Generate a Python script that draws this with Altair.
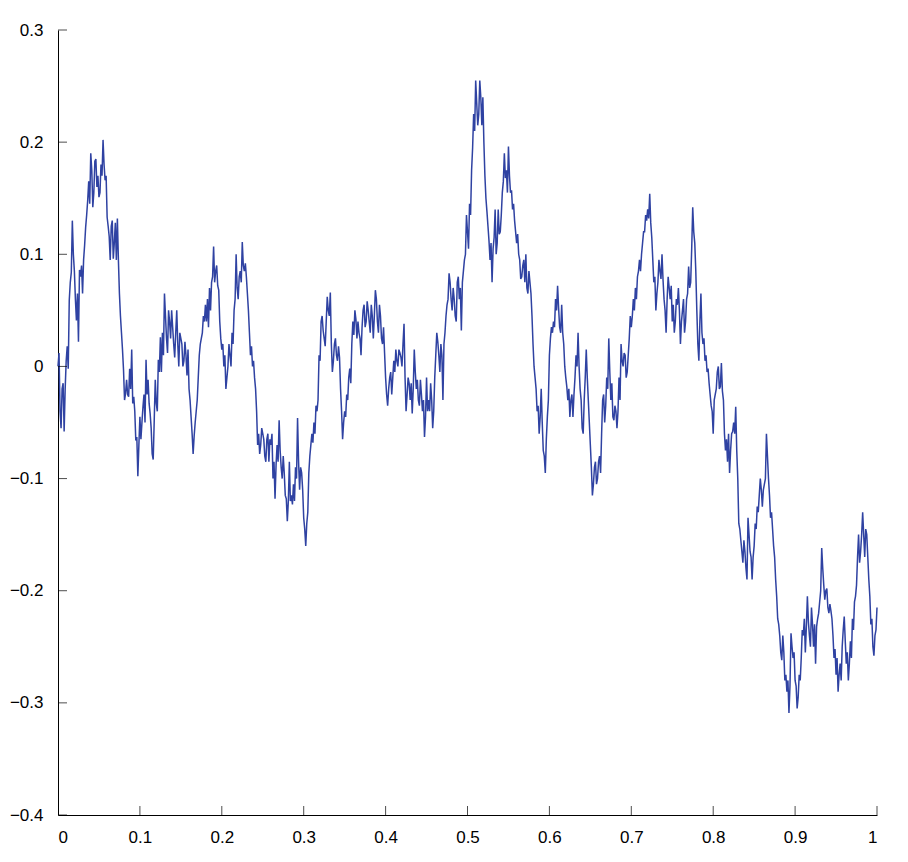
import altair as alt
import pandas as pd

# Path values at x = 0, 0.0025, 0.005, ... 1
seg1 = [0.000, -0.040, -0.020, -0.058, 0.005, -0.002, 0.075, 0.130, 0.085, 0.041,
        0.022, 0.080, 0.065, 0.108, 0.135, 0.165, 0.190, 0.142, 0.183, 0.160,
        0.151, 0.180, 0.202, 0.166, 0.133, 0.116, 0.125, 0.096, 0.128, 0.132,
        0.065, 0.030, -0.003, -0.024, -0.025, -0.002, 0.015, -0.027, -0.066, -0.098,
        -0.045, -0.050, -0.025, 0.006, -0.012, -0.042, -0.078, -0.048, -0.033, 0.006]
seg2 = [0.026, 0.030, 0.065, 0.025, 0.050, 0.025, 0.035, 0.008, 0.050, 0.000,
        0.025, 0.000, 0.022, -0.008, -0.020, -0.045, -0.078, -0.050, -0.030, 0.010,
        0.025, 0.045, 0.055, 0.060, 0.070, 0.075, 0.107, 0.085, 0.072, 0.040,
        0.015, 0.000, -0.020, 0.000, 0.010, 0.030, 0.050, 0.100, 0.060, 0.085,
        0.111, 0.085, 0.080, 0.050, 0.010, 0.000, -0.010, -0.040, -0.060, -0.070]
seg3 = [-0.060, -0.080, -0.065, -0.085, -0.070, -0.100, -0.118, -0.070, -0.048, -0.090,
        -0.080, -0.115, -0.138, -0.085, -0.115, -0.105, -0.090, -0.046, -0.110, -0.095,
        -0.135, -0.160, -0.130, -0.080, -0.060, -0.050, -0.035, -0.030, 0.005, 0.045,
        0.025, 0.040, 0.050, 0.066, -0.005, 0.020, 0.010, 0.018, -0.020, -0.065,
        -0.040, -0.025, -0.010, -0.015, 0.040, 0.050, 0.025, 0.030, 0.010, 0.050]
seg4 = [0.035, 0.058, 0.040, 0.055, 0.025, 0.068, 0.040, 0.055, 0.025, 0.035,
        -0.010, -0.035, -0.010, -0.025, 0.005, 0.015, 0.000, 0.012, 0.000, 0.038,
        -0.040, -0.010, -0.030, -0.042, 0.015, -0.020, -0.030, -0.012, -0.040, -0.063,
        -0.010, -0.030, -0.015, -0.055, -0.010, 0.030, 0.010, 0.020, -0.030, 0.030,
        0.055, 0.083, 0.060, 0.070, 0.045, 0.075, 0.060, 0.032, 0.085, 0.100]
seg5 = [0.120, 0.145, 0.175, 0.225, 0.255, 0.215, 0.255, 0.215, 0.200, 0.150,
        0.125, 0.095, 0.075, 0.115, 0.100, 0.140, 0.120, 0.155, 0.190, 0.175,
        0.196, 0.155, 0.140, 0.130, 0.110, 0.100, 0.078, 0.090, 0.075, 0.070,
        0.085, 0.065, 0.020, -0.010, -0.040, -0.060, -0.020, -0.075, -0.095, -0.045,
        0.010, 0.035, 0.040, 0.060, 0.072, 0.035, 0.055, 0.020, -0.010, -0.030]
seg6 = [-0.045, -0.025, -0.025, 0.010, 0.030, -0.020, -0.055, -0.030, 0.015, -0.030,
        -0.070, -0.115, -0.090, -0.105, -0.085, -0.095, -0.030, -0.050, -0.010, 0.025,
        -0.030, -0.045, -0.035, -0.055, -0.010, 0.020, 0.000, 0.010, -0.005, 0.025,
        0.035, 0.060, 0.070, 0.080, 0.095, 0.100, 0.120, 0.135, 0.140, 0.154,
        0.115, 0.075, 0.050, 0.075, 0.085, 0.100, 0.060, 0.030, 0.080, 0.060]
seg7 = [0.040, 0.030, 0.060, 0.070, 0.020, 0.050, 0.030, 0.060, 0.089, 0.075,
        0.142, 0.110, 0.050, 0.005, 0.065, 0.020, 0.005, -0.005, -0.015, -0.035,
        -0.060, -0.025, -0.005, -0.020, 0.003, -0.030, -0.075, -0.085, -0.095, -0.060,
        -0.050, -0.036, -0.100, -0.145, -0.165, -0.155, -0.180, -0.135, -0.165, -0.190,
        -0.160, -0.145, -0.130, -0.100, -0.125, -0.105, -0.060, -0.100, -0.135, -0.145]
seg8 = [-0.170, -0.205, -0.230, -0.255, -0.240, -0.280, -0.290, -0.309, -0.238, -0.260,
        -0.280, -0.305, -0.275, -0.260, -0.240, -0.255, -0.205, -0.240, -0.215, -0.250,
        -0.265, -0.225, -0.210, -0.162, -0.195, -0.200, -0.215, -0.212, -0.225, -0.260,
        -0.275, -0.290, -0.265, -0.250, -0.223, -0.265, -0.280, -0.245, -0.225, -0.210,
        -0.195, -0.150, -0.165, -0.130, -0.170, -0.150, -0.190, -0.230, -0.250, -0.240,
        -0.215]

# Values read between those samples (x = 0.00125, 0.00375, ...)
mid1 = [0.012, -0.055, -0.015, -0.020, 0.018, 0.059, 0.084, 0.100, 0.060, 0.065,
        0.086, 0.090, 0.095, 0.124, 0.148, 0.145, 0.175, 0.155, 0.185, 0.170,
        0.155, 0.170, 0.180, 0.170, 0.125, 0.095, 0.130, 0.110, 0.095, 0.095,
        0.045, 0.015, -0.030, -0.012, -0.027, -0.020, -0.033, -0.040, -0.063, -0.070,
        -0.065, -0.036, -0.050, -0.025, -0.033, -0.055, -0.083, -0.012, -0.040, -0.005]
mid2 = [-0.005, 0.010, 0.045, 0.012, 0.040, 0.050, 0.020, 0.030, 0.020, 0.030,
        0.020, 0.005, 0.010, 0.015, -0.030, -0.060, -0.062, -0.040, -0.010, 0.020,
        0.030, 0.040, 0.040, 0.035, 0.050, 0.080, 0.075, 0.090, 0.068, 0.025,
        0.020, 0.010, -0.010, 0.020, 0.000, 0.020, 0.060, 0.070, 0.080, 0.075,
        0.090, 0.092, 0.065, 0.030, 0.018, 0.005, -0.020, -0.070, -0.078, -0.055]
mid3 = [-0.065, -0.085, -0.060, -0.065, -0.060, -0.085, -0.088, -0.085, -0.075, -0.100,
        -0.095, -0.118, -0.120, -0.120, -0.123, -0.120, -0.100, -0.085, -0.090, -0.110,
        -0.145, -0.140, -0.095, -0.070, -0.068, -0.060, -0.040, 0.010, 0.040, 0.032,
        0.018, 0.062, 0.045, 0.020, 0.005, 0.025, 0.005, 0.008, -0.040, -0.050,
        -0.045, -0.030, -0.002, 0.020, 0.028, 0.042, 0.040, 0.025, 0.035, 0.055]
mid4 = [0.040, 0.050, 0.030, 0.045, 0.045, 0.060, 0.030, 0.045, 0.020, 0.012,
        -0.025, -0.020, -0.005, -0.010, -0.005, 0.005, 0.015, 0.008, 0.020, -0.010,
        -0.025, -0.015, -0.015, -0.020, -0.005, -0.012, -0.035, -0.025, -0.030, -0.045,
        -0.040, -0.040, -0.030, -0.040, 0.010, 0.022, -0.005, 0.010, 0.020, 0.045,
        0.060, 0.075, 0.050, 0.060, 0.040, 0.080, 0.070, 0.075, 0.095, 0.135]
mid5 = [0.105, 0.135, 0.195, 0.210, 0.235, 0.225, 0.240, 0.240, 0.170, 0.138,
        0.112, 0.110, 0.105, 0.140, 0.110, 0.118, 0.135, 0.165, 0.168, 0.155,
        0.170, 0.157, 0.145, 0.120, 0.118, 0.095, 0.080, 0.095, 0.100, 0.065,
        0.075, 0.045, 0.000, -0.020, -0.035, -0.045, -0.050, -0.080, -0.065, -0.030,
        0.025, 0.030, 0.035, 0.050, 0.052, 0.030, 0.030, 0.000, -0.018, -0.020]
mid6 = [-0.030, -0.045, -0.010, 0.000, 0.000, -0.030, -0.060, -0.010, -0.010, -0.050,
        -0.090, -0.105, -0.085, -0.100, -0.080, -0.060, -0.025, -0.035, -0.020, -0.005,
        -0.015, -0.048, -0.040, -0.040, -0.030, 0.005, 0.012, -0.010, 0.010, 0.045,
        0.045, 0.050, 0.060, 0.085, 0.085, 0.110, 0.120, 0.130, 0.132, 0.128,
        0.095, 0.080, 0.065, 0.095, 0.078, 0.077, 0.050, 0.060, 0.070, 0.072]
mid7 = [0.055, 0.040, 0.055, 0.050, 0.040, 0.060, 0.040, 0.065, 0.070, 0.105,
        0.120, 0.085, 0.020, 0.040, 0.030, 0.025, 0.010, -0.002, -0.025, -0.040,
        -0.030, -0.020, 0.000, -0.018, -0.022, -0.060, -0.065, -0.060, -0.075, -0.058,
        -0.060, -0.075, -0.140, -0.155, -0.175, -0.165, -0.190, -0.150, -0.170, -0.170,
        -0.140, -0.125, -0.115, -0.110, -0.110, -0.100, -0.080, -0.115, -0.130, -0.160]
mid8 = [-0.190, -0.225, -0.240, -0.262, -0.255, -0.275, -0.280, -0.285, -0.250, -0.255,
        -0.285, -0.295, -0.280, -0.235, -0.225, -0.232, -0.228, -0.250, -0.230, -0.230,
        -0.232, -0.220, -0.200, -0.180, -0.208, -0.198, -0.220, -0.218, -0.240, -0.252,
        -0.260, -0.275, -0.280, -0.235, -0.245, -0.255, -0.265, -0.260, -0.235, -0.205,
        -0.170, -0.175, -0.150, -0.150, -0.145, -0.170, -0.205, -0.225, -0.258, -0.235]

main = seg1 + seg2 + seg3 + seg4 + seg5 + seg6 + seg7 + seg8
mids = mid1 + mid2 + mid3 + mid4 + mid5 + mid6 + mid7 + mid8
values = []
for a, b in zip(main[:-1], mids):
    values += [a, b]
values.append(main[-1])
n = len(values) - 1
df = pd.DataFrame({"t": [i / n for i in range(len(values))], "w": values})

x_ticks = [0, 0.1, 0.2, 0.3, 0.4, 0.5, 0.6, 0.7, 0.8, 0.9, 1]
y_ticks = [-0.4, -0.3, -0.2, -0.1, 0, 0.1, 0.2, 0.3]

W, H = 819, 785

xs = alt.Scale(domain=[0, 1], nice=False, zero=False)
ys = alt.Scale(domain=[-0.4, 0.3], nice=False, zero=False)

line = alt.Chart(df).mark_line(color="#2f42a2", strokeWidth=1.5).encode(
    x=alt.X("t:Q", scale=xs, title=None,
            axis=alt.Axis(values=x_ticks, format="~g", ticks=False, grid=False,
                          labelPadding=14, domainColor="black", labelColor="black",
                          labelFontSize=17, labelFont="Liberation Sans")),
    y=alt.Y("w:Q", scale=ys, title=None,
            axis=alt.Axis(values=y_ticks, format="~g", ticks=False, grid=False,
                          labelPadding=15, domainColor="black", labelColor="black",
                          labelFontSize=17, labelFont="Liberation Sans")),
)

xt = alt.Chart(pd.DataFrame({"v": x_ticks[1:]})).mark_tick(
    orient="vertical", color="black", thickness=1, size=9
).encode(x=alt.X("v:Q", scale=xs), y=alt.value(H - 4.5))

yt = alt.Chart(pd.DataFrame({"v": y_ticks})).mark_tick(
    orient="horizontal", color="black", thickness=1, size=9
).encode(y=alt.Y("v:Q", scale=ys), x=alt.value(4.5))

chart = alt.layer(line, xt, yt).properties(
    width=W, height=H,
    autosize=alt.AutoSizeParams(type="none"),
    padding={"left": 58, "top": 30, "right": 31, "bottom": 47},
).configure(background="white").configure_view(strokeWidth=0)

chart.save("out.html", embed_options={"renderer": "svg", "actions": False})
